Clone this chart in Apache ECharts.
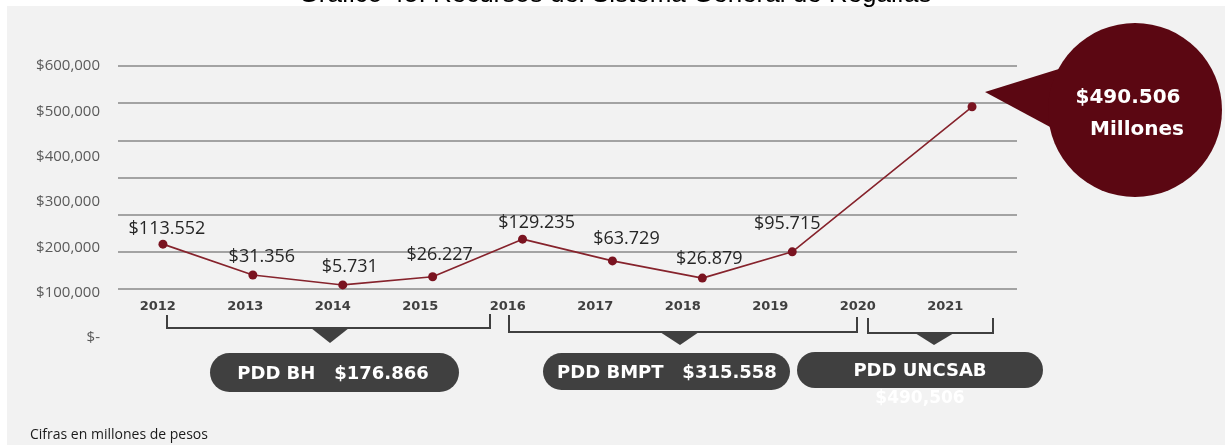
<!DOCTYPE html>
<html>
<head>
<meta charset="utf-8">
<script src="https://cdn.jsdelivr.net/npm/echarts@6/dist/echarts.min.js"></script>
<style>
  html, body { margin: 0; padding: 0; background: #ffffff; }
  #panel { position: absolute; left: 7px; top: 6px; width: 1218px; height: 439px; background: #f2f2f2; }
  #chart { position: absolute; left: 0; top: 0; width: 1225px; height: 445px; }
</style>
</head>
<body>
<div id="panel"></div>
<div id="chart"></div>
<script>
// años del eje
const years = ['2012', '2013', '2014', '2015', '2016', '2017', '2018', '2019', '2020', '2021']
// nivel de cada punto leído sobre la escala del eje (miles)
const plotted = [207, 139, 117, 135, 218, 170, 132, 190, null, 510]
// cifras rotuladas sobre cada punto
const pointLabels = ['$113.552', '$31.356', '$5.731', '$26.227', '$129.235', '$63.729', '$26.879', '$95.715', '', '']
// marcas del eje y
const yTickLabels = ['$-', '$100,000', '$200,000', '$300,000', '$400,000', '$500,000', '$600,000']
// periodos
const periods = ['PDD BH   $176.866', 'PDD BMPT   $315.558', 'PDD UNCSAB']
const lastTotal = '$490,506'
const bubbleText = ['$490.506', 'Millones']

// ajuste fino de las etiquetas de punto
const labelNudge = [[4, 3], [9, 0], [7, 0], [7, -3], [14, 2], [14, -4], [7, -1], [-5, -9], [0, 0], [0, 0]]

const maroon = '#5b0712'
const darkGrey = '#404040'

const chart = echarts.init(document.getElementById('chart'))

const bracket = (pts) => ({
  type: 'polyline',
  shape: { points: pts },
  style: { stroke: darkGrey, lineWidth: 2, fill: null },
  z: 10
})
const notch = (pts) => ({
  type: 'polygon',
  shape: { points: pts },
  style: { fill: darkGrey },
  z: 10
})
const pill = (x, y, w, h) => ({
  type: 'rect',
  shape: { x: x, y: y, width: w, height: h, r: h / 2 },
  style: { fill: darkGrey },
  z: 10
})
const whiteText = (txt, x, y, size) => ({
  type: 'text',
  x: x,
  y: y,
  style: {
    text: txt,
    fill: '#ffffff',
    font: 'bold ' + size + 'px "DejaVu Sans"',
    textAlign: 'center',
    textVerticalAlign: 'middle'
  },
  z: 12
})

const option = {
  backgroundColor: 'transparent',
  animation: false,
  grid: [
    // rejilla de la línea
    { left: 118, right: 208, top: 66, bottom: 156 },
    // rejilla de los rótulos
    { left: 114, right: 236, top: 66, bottom: 107 }
  ],
  xAxis: [
    {
      type: 'category',
      gridIndex: 0,
      data: years,
      boundaryGap: true,
      axisLine: { show: false },
      axisTick: { show: false },
      axisLabel: { show: false }
    },
    {
      type: 'category',
      gridIndex: 1,
      data: years,
      boundaryGap: true,
      offset: -38,
      axisLine: { show: false },
      axisTick: { show: false },
      axisLabel: {
        margin: 0,
        color: '#404040',
        fontFamily: 'DejaVu Sans',
        fontWeight: 'bold',
        fontSize: 13
      }
    }
  ],
  yAxis: [
    {
      type: 'value',
      gridIndex: 0,
      min: 108,
      max: 600,
      interval: 82,
      axisLine: { show: false },
      axisTick: { show: false },
      axisLabel: { show: false },
      splitLine: { show: true, lineStyle: { color: '#a3a3a3', width: 2 } }
    },
    {
      type: 'value',
      gridIndex: 1,
      min: 0,
      max: 600,
      interval: 100,
      axisLine: { show: false },
      axisTick: { show: false },
      splitLine: { show: false },
      axisLabel: {
        margin: 14,
        color: '#5a5a5a',
        fontFamily: 'Open Sans',
        fontSize: 15,
        formatter: (v) => yTickLabels[Math.round(v / 100)]
      }
    }
  ],
  series: [
    {
      type: 'line',
      xAxisIndex: 0,
      yAxisIndex: 0,
      connectNulls: true,
      symbol: 'circle',
      symbolSize: 9,
      itemStyle: { color: '#7a1320' },
      lineStyle: { color: '#86232c', width: 1.6 },
      data: plotted.map((v, i) => ({
        value: v,
        label: { offset: labelNudge[i] }
      })),
      label: {
        show: true,
        position: 'top',
        distance: 5,
        color: '#262626',
        fontFamily: 'Open Sans',
        fontSize: 18,
        formatter: (p) => pointLabels[p.dataIndex]
      },
      z: 5
    }
  ],
  graphic: [
    // título recortado arriba
    {
      type: 'text',
      x: 615,
      y: 8,
      style: {
        text: 'Gráfico 45. Recursos del Sistema General de Regalías',
        fill: '#000000',
        font: '26px "Liberation Sans"',
        textAlign: 'center',
        textVerticalAlign: 'bottom'
      }
    },
    // burbuja
    {
      type: 'polygon',
      shape: { points: [[985, 92], [1062, 68], [1078, 142]] },
      style: { fill: maroon },
      z: 11
    },
    {
      type: 'circle',
      shape: { cx: 1135, cy: 110, r: 87 },
      style: { fill: maroon },
      z: 11
    },
    whiteText(bubbleText[0], 1128, 98, 20),
    whiteText(bubbleText[1], 1137, 130, 20),
    // corchetes de periodos
    bracket([[167, 315], [167, 328], [490, 328], [490, 314]]),
    notch([[311, 328], [349, 328], [330, 343]]),
    bracket([[509, 315], [509, 332], [857, 332], [857, 317]]),
    notch([[660, 332], [699, 332], [680, 345]]),
    bracket([[868, 318], [868, 333], [993, 333], [993, 318]]),
    notch([[915, 333], [954, 333], [934, 345]]),
    // píldoras
    pill(210, 353, 249, 39),
    pill(543, 353, 247, 37),
    pill(797, 352, 246, 36),
    whiteText(periods[0], 333, 374, 18),
    whiteText(periods[1], 667, 373, 18),
    whiteText(periods[2], 920, 371, 18),
    whiteText(lastTotal, 920, 399, 17),
    // nota
    {
      type: 'text',
      x: 30,
      y: 435,
      style: {
        text: 'Cifras en millones de pesos',
        fill: '#1a1a1a',
        font: '14px "Open Sans"',
        textVerticalAlign: 'middle'
      }
    }
  ]
}

chart.setOption(option)
</script>
</body>
</html>
